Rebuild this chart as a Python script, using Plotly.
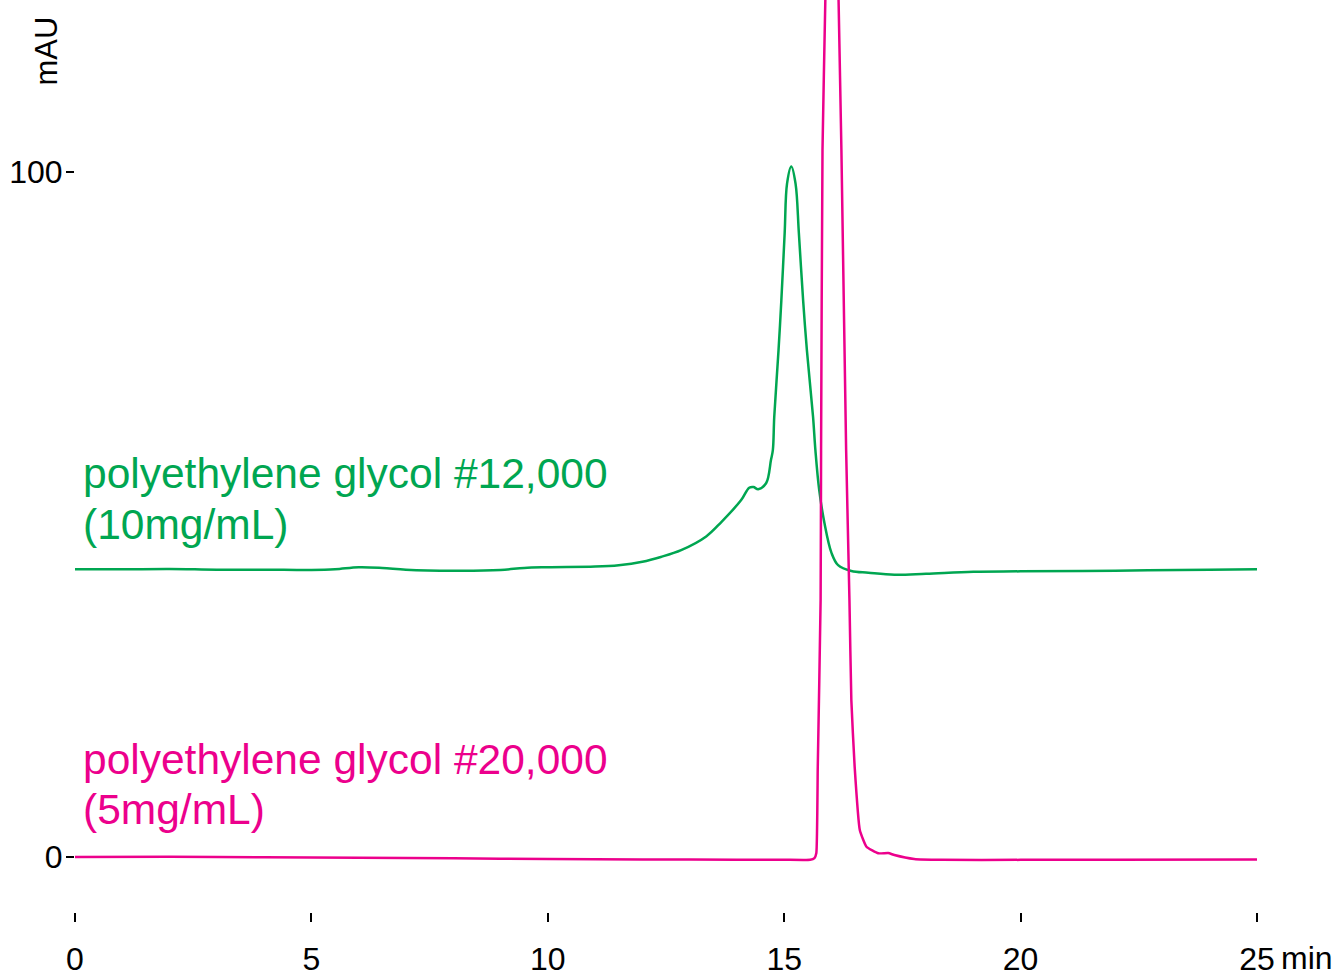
import plotly.graph_objects as go

# Retention time (min) and absorbance (mAU)
peg12k_time = [0, 1, 2, 3, 4, 5, 5.5, 6, 6.5, 7, 8, 9, 9.5, 10, 11, 11.5, 12, 12.39, 12.82,
               13.35, 13.67, 14.09, 14.26, 14.35, 14.45, 14.62, 14.72, 14.76, 14.79, 14.88,
               14.94, 15.01, 15.06, 15.15, 15.24, 15.31, 15.40, 15.48, 15.61, 15.66, 15.74,
               15.85, 16.0, 16.14, 16.42, 16.78, 17.33, 18.0, 19.0, 20.0, 22.0, 24.0, 25.0]
peg12k_mau = [42.0, 42.0, 42.05, 41.95, 41.95, 41.9, 42.0, 42.3, 42.2, 41.95, 41.8, 41.9, 42.2,
              42.3, 42.4, 42.6, 43.1, 43.8, 44.8, 46.8, 48.9, 52.1, 53.9, 54.0, 53.7, 54.6,
              57.95, 59.4, 64.3, 74.0, 81.3, 91.1, 98.3, 100.8, 98.3, 91.1, 81.3, 74.0, 64.3,
              59.4, 53.6, 48.8, 44.4, 42.6, 41.75, 41.5, 41.2, 41.35, 41.65, 41.7, 41.8, 41.95, 42.0]

peg20k_time = [0, 2, 4, 6, 8, 10, 12, 14, 15, 15.55, 15.64, 15.68, 15.71, 15.77, 15.78, 15.81,
               15.87, 15.93, 16.01, 16.09, 16.15, 16.21, 16.31, 16.38, 16.42, 16.49, 16.6,
               16.74, 16.99, 17.2, 17.33, 17.75, 18.33, 20, 22, 25]
peg20k_mau = [0.0, 0.05, -0.05, -0.1, -0.2, -0.3, -0.35, -0.4, -0.4, -0.4, -0.15, 0.58, 13.2,
              37.5, 59.4, 103.2, 125.1, 150, 170, 150, 125.1, 103.2, 59.4, 37.5, 22.9, 13.2,
              3.9, 1.5, 0.54, 0.58, 0.29, -0.29, -0.42, -0.42, -0.4, -0.35]

x_ticks = [0, 5, 10, 15, 20, 25]
y_ticks = [0, 100]

GREEN = "#00A651"
PINK = "#EC008C"
FONT = "Arial, Liberation Sans, sans-serif"

fig = go.Figure()
fig.add_trace(go.Scatter(x=peg12k_time, y=peg12k_mau, mode="lines",
                         line=dict(color=GREEN, width=2.5, shape="spline", smoothing=1.0),
                         showlegend=False, hoverinfo="skip"))
fig.add_trace(go.Scatter(x=peg20k_time, y=peg20k_mau, mode="lines",
                         line=dict(color=PINK, width=2.5, shape="spline", smoothing=0.4),
                         showlegend=False, hoverinfo="skip"))

def label(text, y, color):
    fig.add_annotation(x=0.12, y=y, xref="x", yref="y", text=text, showarrow=False,
                       xanchor="left", yanchor="middle",
                       font=dict(family=FONT, size=42.5, color=color))

label("polyethylene glycol #12,000", 56.0, GREEN)
label("(10mg/mL)", 48.6, GREEN)
label("polyethylene glycol #20,000", 14.2, PINK)
label("(5mg/mL)", 7.0, PINK)

fig.add_annotation(x=1.0186, y=-0.0505, xref="paper", yref="paper", text="min",
                   showarrow=False, xanchor="left", yanchor="middle",
                   font=dict(family=FONT, size=32, color="black"))
fig.add_annotation(x=-0.0245, y=0.9435, xref="paper", yref="paper", text="mAU",
                   showarrow=False, textangle=-90, xanchor="center", yanchor="middle",
                   font=dict(family=FONT, size=31, color="black"))

fig.update_layout(
    width=1338, height=974,
    margin=dict(l=75, r=81, t=0, b=62, autoexpand=False),
    plot_bgcolor="white", paper_bgcolor="white",
    font=dict(family=FONT, color="black"),
    xaxis=dict(range=[0, 25], tickvals=x_ticks, ticks="outside", ticklen=9, tickwidth=2,
               tickcolor="black", showline=False, showgrid=False, zeroline=False,
               ticklabelstandoff=10, automargin=False,
               tickfont=dict(size=32, family=FONT, color="black"), fixedrange=True),
    yaxis=dict(range=[-8.03, 125.11], tickvals=y_ticks, ticks="outside", ticklen=8, tickwidth=2,
               tickcolor="black", showline=False, showgrid=False, zeroline=False,
               ticklabelstandoff=-3, automargin=False,
               tickfont=dict(size=32, family=FONT, color="black"), fixedrange=True),
)

fig.write_html("out.html", config={"displayModeBar": False},
               post_script="document.body.style.margin='0';")
